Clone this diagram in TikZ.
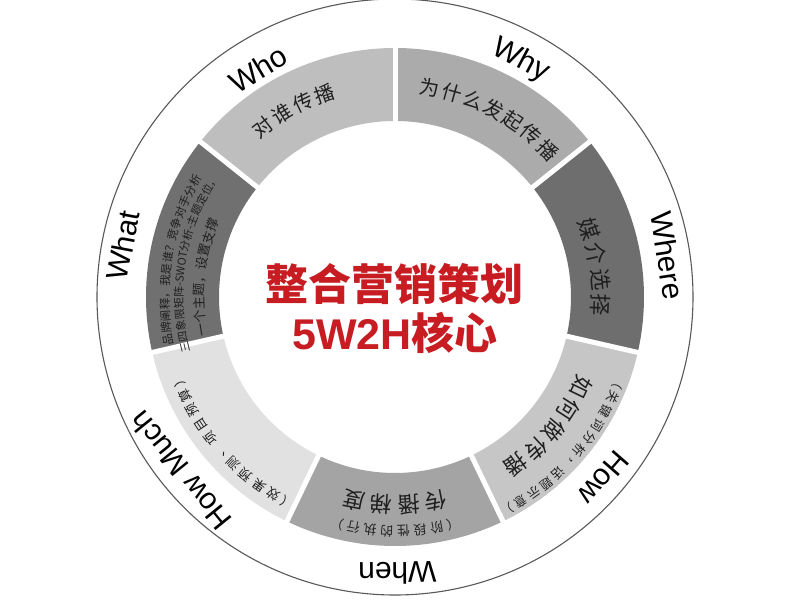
\documentclass[tikz,border=0pt]{standalone}
\usepackage{fontspec}
\setmainfont{Liberation Sans}
\newfontfamily\cjk{Noto Sans CJK SC}
\usetikzlibrary{positioning,decorations.text}
\definecolor{segWho}{HTML}{BEBEBE}
\definecolor{segWhy}{HTML}{ABABAB}
\definecolor{segWhere}{HTML}{6E6E6E}
\definecolor{segHow}{HTML}{C6C6C6}
\definecolor{segWhen}{HTML}{A4A4A4}
\definecolor{segHowMuch}{HTML}{E1E1E1}
\definecolor{segWhat}{HTML}{707070}
\definecolor{coreRed}{RGB}{198,28,34}
\newcommand\whatA{\cjk\fontsize{11.5}{12}\selectfont}
\newcommand\whatB{\cjk\fontsize{11}{12}\selectfont}
\newcommand\whatC{\cjk\fontsize{13}{14}\selectfont}
\tikzset{
    w label/.style={font=\fontsize{30}{32}\selectfont, inner sep=0pt},
    seg char/.style={text=black!88, inner sep=0pt},
    core text/.style={font=\cjk\bfseries\fontsize{43}{46}\selectfont, text=coreRed, inner sep=0pt},
    gap line/.style={white, line width=5pt},
    rim/.style={draw=black!65, line width=1.1pt}
}
\newcommand{\arcchars}[7]{%
    \foreach \ch [count=\i] in {#7} {
        \pgfmathsetmacro\ang{#2-(\i-(#4+1)/2)*#5}
        \node[seg char, font=\cjk\fontsize{#6}{#6}\selectfont, rotate=\ang-90] (#1-\i) at (\ang:#3) {\ch};
    }%
}

\begin{document}
\begin{tikzpicture}
    \fill[white] (-395pt,-303pt) rectangle (405pt,297pt);
    \useasboundingbox (-395pt,-303pt) rectangle (405pt,297pt);

    \draw[rim] (0,0) circle[radius=298pt];

    \foreach \col [count=\k from 0] in {segWho,segWhat,segHowMuch,segWhen,segHow,segWhere,segWhy} {
        \pgfmathsetmacro\angA{90+\k*360/7}
        \pgfmathsetmacro\angB{90+(\k+1)*360/7}
        \fill[\col] (\angA:176pt) arc[start angle=\angA, end angle=\angB, radius=176pt]
            -- (\angB:249pt) arc[start angle=\angB, end angle=\angA, radius=249pt] -- cycle;
    }
    \foreach \k in {0,...,6}
        \draw[gap line] ({90+\k*360/7}:170pt) -- ({90+\k*360/7}:255pt);

    \foreach \name/\txt/\ang/\r in {who/Who/121/266pt, why/Why/62/268pt, where/Where/8.7/276pt,
        how/How/-41/276pt, when/When/-89.5/276pt, howmuch/How Much/-141/276pt, what/What/169.3/277pt}
        \node[w label, rotate=\ang-90] (\name) at (\ang:\r) {\txt};

    \arcchars{who}{118.5}{215pt}{4}{6.3}{20}{对,谁,传,播}
    \arcchars{why}{62.2}{212pt}{7}{6.1}{20}{为,什,么,发,起,传,播}
    \arcchars{where}{8.5}{206pt}{4}{7.2}{22}{媒,介,选,择}
    \arcchars{how}{-40}{207pt}{5}{7.15}{22}{如,何,做,传,播}
    \arcchars{hownote}{-41.6}{240pt}{12}{3.75}{12.5}{（,关,键,词,分,析,，,话,题,示,意,）}
    \arcchars{when}{-90}{208pt}{4}{7.5}{22}{传,播,梯,度}
    \arcchars{whennote}{-90}{234pt}{8}{4.1}{13}{（,阶,段,性,的,执,行,）}
    \arcchars{howmuch}{221.7}{232pt}{11}{4.15}{13}{（,效,果,预,测,、,项,目,预,算,）}

    \path[decorate, decoration={text along path, text color=black!88,
        text={|\whatA|品牌阐释，我是谁？竞争对手分析}}]
        (192:226pt) arc[start angle=192, end angle=130, radius=226pt];
    \path[decorate, decoration={text along path, text color=black!88,
        text={|\whatB|三四象限矩阵-SWOT分析-主题定位，}}]
        (195:212pt) arc[start angle=195, end angle=130, radius=212pt];
    \path[decorate, decoration={text along path, text color=black!88,
        text={|\whatC|一个主题，设置支撑}}]
        (191.6:191pt) arc[start angle=191.6, end angle=140, radius=191pt];

    \node[core text] (core top) at (0pt,13pt) {整合营销策划};
    \node[core text, below=7pt of core top] (core bottom) {{\rmfamily 5W2H}核心};
\end{tikzpicture}
\end{document}
